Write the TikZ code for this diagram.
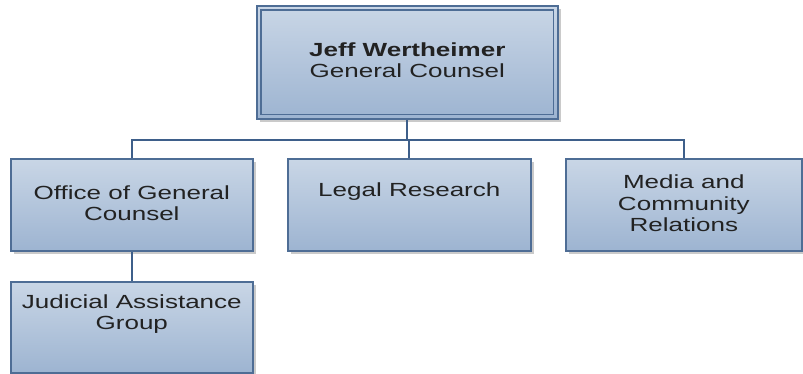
\documentclass[tikz,border=0pt]{standalone}
\usepackage{fontspec}
\setmainfont[FakeStretch=1.37]{Liberation Sans}
\usetikzlibrary{shadows}
\definecolor{boxtop}{HTML}{C9D6E6}
\definecolor{boxbot}{HTML}{9DB4D1}
\definecolor{boxline}{HTML}{4E6D95}
\definecolor{conn}{HTML}{3E5F8A}
\definecolor{txtc}{HTML}{222222}
\tikzset{
  x=1pt,y=1pt,
  orgbox/.style={draw=boxline, line width=1.6pt, top color=boxtop, bottom color=boxbot,
    minimum width=242pt, minimum height=92pt, inner sep=0pt, anchor=north west,
    drop shadow={shadow xshift=3pt, shadow yshift=-3pt, opacity=0.35, fill=black!60}},
  txt/.style={text=txtc, align=center, font=\fontsize{19}{21.5}\selectfont},
  link/.style={draw=conn, line width=2.2pt}
}
\begin{document}
\begin{tikzpicture}
\useasboundingbox (0,0) rectangle (803,374);
% top box
\node[orgbox, minimum width=301pt, minimum height=113pt,
  label={[txt, yshift=2pt]center:{\bfseries Jeff Wertheimer}\\General Counsel}] (top) at (256,369) {};
\draw[boxline, line width=1.4pt] ([shift={(5,-5)}]top.north west) rectangle ([shift={(-5,5)}]top.south east);
% second row
\node[orgbox, label={[txt, yshift=1.5pt]center:Office of General\\Counsel}] (ogc) at (10,216) {};
\node[orgbox, minimum width=243pt, label={[txt, yshift=13pt]center:Legal Research}] (lr) at (287,216) {};
\node[orgbox, minimum width=236pt, label={[txt, yshift=1.5pt]center:Media and\\Community\\Relations}] (mcr) at (565,216) {};
% third row
\node[orgbox, minimum height=91pt, label={[txt, yshift=13pt]center:Judicial Assistance\\Group}] (jag) at (10,93) {};
% connectors
\coordinate (bus) at (407,234);
\draw[link] (top.south -| bus) -- (bus);
\draw[link] (ogc.north) |- (bus) -| (mcr.north);
\draw[link] (bus) -- (bus -| lr.north) -- (lr.north);
\draw[link] (ogc.south) -- (jag.north);
\end{tikzpicture}
\end{document}
